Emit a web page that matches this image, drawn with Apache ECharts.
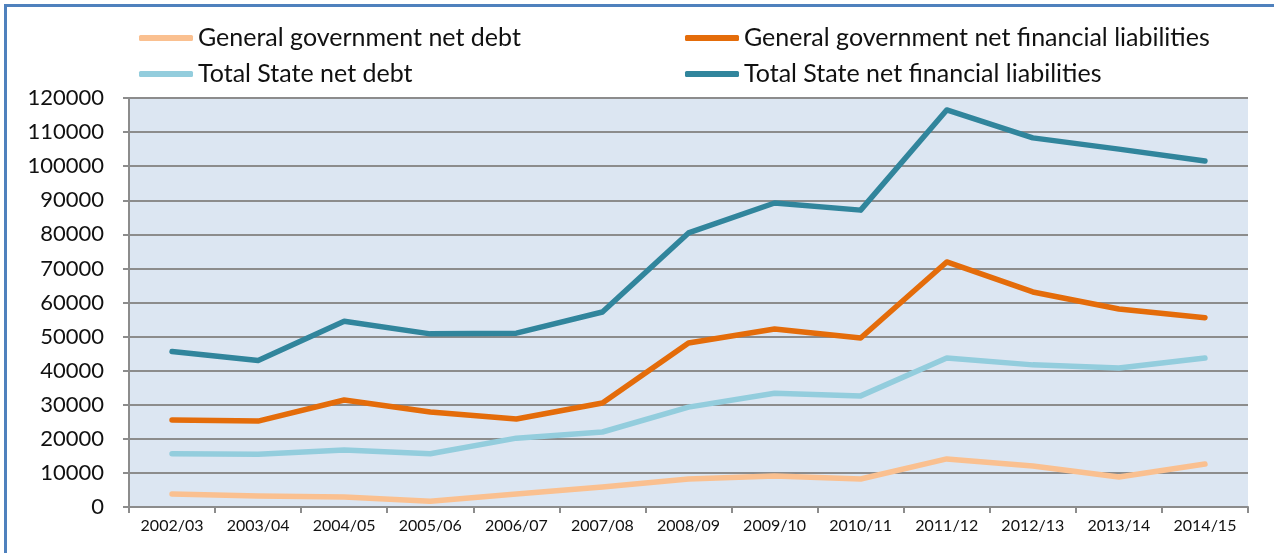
<!DOCTYPE html>
<html>
<head>
<meta charset="utf-8">
<script src="https://cdn.jsdelivr.net/npm/echarts@6/dist/echarts.min.js"></script>
<style>
  html, body { margin: 0; padding: 0; background: #ffffff; }
  #chart { width: 1274px; height: 553px; }
</style>
</head>
<body>
<div id="chart"></div>
<script>
// Financial years on the category axis
const years = ['2002/03', '2003/04', '2004/05', '2005/06', '2006/07', '2007/08', '2008/09',
  '2009/10', '2010/11', '2011/12', '2012/13', '2013/14', '2014/15'];

// Series values ($m)
const ggNetDebt = [3800, 3200, 2900, 1700, 3800, 5900, 8200, 9100, 8200, 14100, 12000, 8800, 12600];
const ggNetFinLiab = [25500, 25200, 31400, 27900, 25800, 30500, 48100, 52200, 49600, 71900, 63100, 58100, 55500];
const tsNetDebt = [15600, 15500, 16700, 15600, 20200, 22000, 29300, 33400, 32600, 43700, 41700, 40800, 43700];
const tsNetFinLiab = [45600, 43000, 54500, 50800, 51000, 57200, 80400, 89200, 87100, 116500, 108300, 105000, 101500];

const seriesNames = [
  'General government net debt',
  'General government net financial liabilities',
  'Total State net debt',
  'Total State net financial liabilities'
];
const seriesColors = ['#FAC090', '#E46C0A', '#93CDDD', '#31859C'];
const seriesData = [ggNetDebt, ggNetFinLiab, tsNetDebt, tsNetFinLiab];

const FONT = 'Lato, "Open Sans", sans-serif';

const chart = echarts.init(document.getElementById('chart'), null, { renderer: 'canvas' });

const legendBase = {
  orient: 'vertical',
  icon: 'roundRect',
  itemWidth: 54,
  itemHeight: 6,
  itemGap: 10,
  padding: 0,
  selectedMode: false,
  textStyle: { fontFamily: FONT, fontSize: 25, color: '#111', lineHeight: 26 }
};

chart.setOption({
  animation: false,
  backgroundColor: '#ffffff',
  graphic: [{
    type: 'polyline',
    shape: { points: [[5.5, 560], [5.5, 5.5], [1290, 5.5]] },
    style: { stroke: '#4F81BD', lineWidth: 3, fill: null },
    silent: true
  }],
  legend: [
    Object.assign({}, legendBase, { left: 139, top: 25, data: [seriesNames[0], seriesNames[2]] }),
    Object.assign({}, legendBase, { left: 685, top: 25, data: [seriesNames[1], seriesNames[3]] })
  ],
  grid: {
    left: 129, right: 26, top: 98, bottom: 46,
    show: true, backgroundColor: '#DCE6F2', borderWidth: 0,
    containLabel: false
  },
  xAxis: {
    type: 'category',
    data: years,
    boundaryGap: true,
    axisLine: { show: true, lineStyle: { color: '#8C8C8C', width: 2 } },
    axisTick: { show: true, length: 6, interval: 0, lineStyle: { color: '#8C8C8C', width: 2 } },
    axisLabel: { fontFamily: FONT, fontSize: 16, color: '#111', margin: 11, interval: 0 },
    splitLine: { show: false }
  },
  yAxis: {
    type: 'value',
    min: 0,
    max: 120000,
    interval: 10000,
    axisLine: { show: true, lineStyle: { color: '#8C8C8C', width: 2 } },
    axisTick: { show: true, length: 6, lineStyle: { color: '#8C8C8C', width: 2 } },
    axisLabel: {
      fontFamily: FONT, fontSize: 22, color: '#111', margin: 25,
      formatter: (v) => String(v)
    },
    splitLine: { show: true, lineStyle: { color: '#8C8C8C', width: 2 } }
  },
  series: seriesNames.map((name, i) => ({
    name: name,
    type: 'line',
    data: seriesData[i],
    showSymbol: false,
    symbol: 'none',
    color: seriesColors[i],
    lineStyle: { color: seriesColors[i], width: 5.5, cap: 'round', join: 'round' },
    itemStyle: { color: seriesColors[i] }
  }))
});
</script>
</body>
</html>
